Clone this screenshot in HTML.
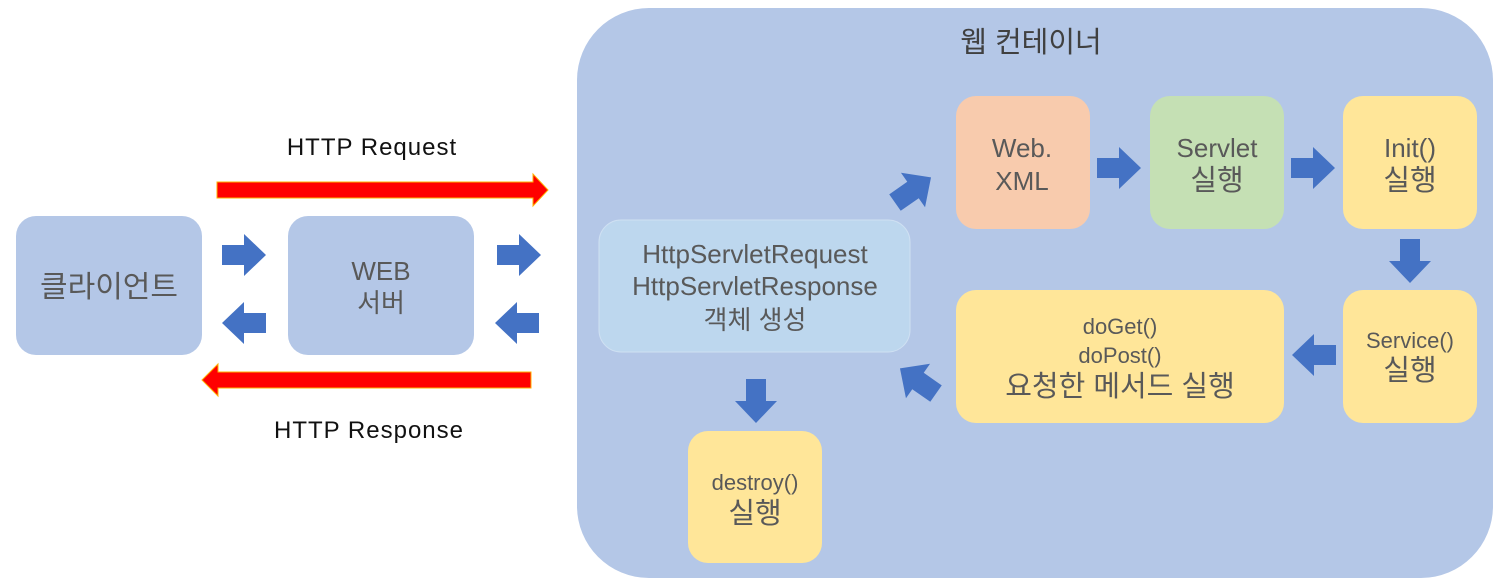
<!DOCTYPE html>
<html><head><meta charset="utf-8"><style>
html,body{margin:0;padding:0;background:#fff;width:1501px;height:588px;overflow:hidden}
svg text{font-family:"Liberation Sans","Noto Sans CJK KR",sans-serif;fill:#595959;text-anchor:middle}
</style></head><body>
<svg width="1501" height="588" viewBox="0 0 1501 588">
<defs>
<polygon id="ar" points="-22,-10 0,-10 0,-21 22,0 0,21 0,10 -22,10" fill="#4472c4"/>
</defs>
<rect x="577" y="8" width="916" height="570" rx="72" fill="#b4c7e7"/>
<text x="1031" y="52" font-size="29" style="fill:#404040">웹 컨테이너</text>

<rect x="16" y="216" width="186" height="139" rx="20" fill="#b4c7e7"/>
<text x="109" y="297" font-size="30">클라이언트</text>
<rect x="288" y="216" width="186" height="139" rx="20" fill="#b4c7e7"/>
<text x="381" y="280" font-size="26">WEB</text>
<text x="381" y="312" font-size="26">서버</text>

<polygon points="217,182 533,182 533,174 548,190 533,206 533,198 217,198" fill="#ff0000" stroke="#ffb000" stroke-width="1"/>
<polygon points="531,372 218,372 218,364 202,380 218,396 218,388 531,388" fill="#ff0000" stroke="#ffb000" stroke-width="1"/>
<text x="372" y="155" font-size="24" letter-spacing="1" style="fill:#111">HTTP  Request</text>
<text x="369" y="438" font-size="24" letter-spacing="1" style="fill:#111">HTTP  Response</text>

<use href="#ar" transform="translate(244,255)"/>
<use href="#ar" transform="translate(244,323) rotate(180)"/>
<use href="#ar" transform="translate(519,255)"/>
<use href="#ar" transform="translate(517,323) rotate(180)"/>

<rect x="599" y="220" width="311" height="132" rx="22" fill="#bdd7ee" stroke="#cfe0f2" stroke-width="1"/>
<text x="755" y="263" font-size="26">HttpServletRequest</text>
<text x="755" y="295" font-size="26">HttpServletResponse</text>
<text x="755" y="329" font-size="26">객체 생성</text>

<rect x="956" y="96" width="134" height="133" rx="20" fill="#f8cbad"/>
<text x="1022" y="157" font-size="26">Web.</text>
<text x="1022" y="190" font-size="26">XML</text>
<rect x="1150" y="96" width="134" height="133" rx="20" fill="#c5e0b4"/>
<text x="1217" y="157" font-size="26">Servlet</text>
<text x="1217" y="190" font-size="29">실행</text>
<rect x="1343" y="96" width="134" height="133" rx="20" fill="#ffe699"/>
<text x="1410" y="157" font-size="26">Init()</text>
<text x="1410" y="190" font-size="29">실행</text>

<rect x="956" y="290" width="328" height="133" rx="20" fill="#ffe699"/>
<text x="1120" y="334" font-size="22">doGet()</text>
<text x="1120" y="363" font-size="22">doPost()</text>
<text x="1120" y="396" font-size="29">요청한 메서드 실행</text>
<rect x="1343" y="290" width="134" height="133" rx="20" fill="#ffe699"/>
<text x="1410" y="348" font-size="22">Service()</text>
<text x="1410" y="380" font-size="29">실행</text>

<rect x="688" y="431" width="134" height="132" rx="20" fill="#ffe699"/>
<text x="755" y="490" font-size="22">destroy()</text>
<text x="755" y="523" font-size="29">실행</text>

<use href="#ar" transform="translate(1119,168)"/>
<use href="#ar" transform="translate(1313,168)"/>
<use href="#ar" transform="translate(1410,261) rotate(90)"/>
<use href="#ar" transform="translate(1314,355) rotate(180)"/>
<use href="#ar" transform="translate(913,190) rotate(-35)"/>
<use href="#ar" transform="translate(918,381) rotate(-145)"/>
<use href="#ar" transform="translate(756,401) rotate(90)"/>
</svg>
</body></html>
